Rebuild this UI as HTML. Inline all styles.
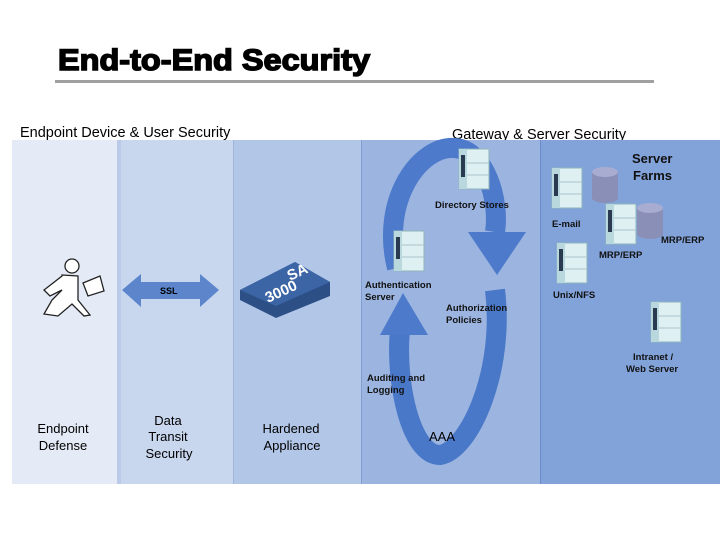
<!DOCTYPE html>
<html><head><style>
body{margin:0;background:#fff;width:720px;height:540px;overflow:hidden}
svg text{font-family:"Liberation Sans",sans-serif}
</style></head><body>
<svg width="720" height="540" viewBox="0 0 720 540" xmlns="http://www.w3.org/2000/svg">
<defs>
<g id="srv">
<rect x="0" y="0" width="30" height="40" fill="#dff0f2" stroke="#8fb4bc" stroke-width="1"/>
<rect x="0" y="0" width="8" height="40" fill="#b8d8de"/>
<rect x="2" y="6" width="4" height="22" fill="#2a3a50"/>
<line x1="8" y1="14" x2="30" y2="14" stroke="#a8c4ca"/>
<line x1="8" y1="26" x2="30" y2="26" stroke="#a8c4ca"/>
</g>
<g id="db">
<rect x="0" y="5" width="26" height="26" fill="#8a8fb8"/>
<ellipse cx="13" cy="31" rx="13" ry="5" fill="#8a8fb8"/>
<ellipse cx="13" cy="5" rx="13" ry="5" fill="#a8acd0"/>
</g>
</defs>
<text x="58" y="70" font-size="30" font-weight="900" fill="#000" stroke="#000" stroke-width="1.5" textLength="312" lengthAdjust="spacingAndGlyphs">End-to-End Security</text>
<rect x="55" y="80" width="599" height="3" fill="#a0a0a0"/>
<text x="20" y="137" font-size="14.5" fill="#000">Endpoint Device &amp; User Security</text>
<text x="452" y="139" font-size="14.5" fill="#000">Gateway &amp; Server Security</text>
<rect x="12" y="140" width="105" height="344" fill="#e5ebf6"/>
<rect x="117" y="140" width="116" height="344" fill="#c8d6ee"/>
<rect x="233" y="140" width="128" height="344" fill="#b2c6e8"/>
<rect x="361" y="140" width="179" height="344" fill="#9cb5e0"/>
<rect x="540" y="140" width="180" height="344" fill="#82a3da"/>
<rect x="117" y="140" width="4" height="344" fill="#b9cbe9"/>
<line x1="233.5" y1="140" x2="233.5" y2="484" stroke="#9fb5dc"/>
<line x1="361.5" y1="140" x2="361.5" y2="484" stroke="#7f9dd2"/>
<line x1="540.5" y1="140" x2="540.5" y2="484" stroke="#6a8ccc"/>
<!-- loop arrows -->
<path d="M 397 268 C 380 200, 420 145, 455 148 C 485 150, 500 200, 495 232" fill="none" stroke="#4d7acb" stroke-width="20"/>
<polygon points="468,232 526,232 497,275" fill="#4d7acb"/>
<path d="M 495 290 C 505 370, 470 450, 440 455 C 410 455, 395 380, 400 330" fill="none" stroke="#4a78c8" stroke-width="20"/>
<polygon points="380,335 428,335 403,293" fill="#4d7acb"/>
<!-- SSL arrow -->
<polygon points="122,290 141,274 141,282 200,282 200,274 219,290 200,307 200,299 141,299 141,307" fill="#5c85cc"/>
<text x="160" y="294" font-size="9" font-weight="bold">SSL</text>
<!-- SA 3000 -->
<polygon points="240,290 295,262 330,282 330,296 276,318 240,300" fill="#2c4f86"/>
<polygon points="240,290 295,262 330,282 276,306" fill="#3c65a6"/>
<text x="290" y="281" font-size="15" font-weight="bold" fill="#fff" transform="rotate(-25 290 281)">SA</text>
<text x="268" y="303" font-size="15" font-weight="bold" fill="#fff" transform="rotate(-25 268 303)">3000</text>
<!-- person -->
<g stroke="#222" stroke-width="1.3" fill="#fff">
<circle cx="72" cy="266" r="7"/>
<path d="M62 275 L78 276 L78 300 L90 315 L84 316 L72 304 L58 316 L44 314 L52 300 L62 290 L50 296 L44 290 L62 276 Z"/>
<polygon points="83,283 100,276 104,291 88,296"/>
</g>
<!-- servers -->
<use href="#srv" x="459" y="149"/>
<use href="#srv" x="552" y="168"/>
<use href="#db" x="592" y="167"/>
<use href="#srv" x="606" y="204"/>
<use href="#db" x="637" y="203"/>
<use href="#srv" x="394" y="231"/>
<use href="#srv" x="557" y="243"/>
<use href="#srv" x="651" y="302"/>
<g font-size="9.5" font-weight="bold" fill="#111">
<text x="632" y="163" font-size="13">Server</text>
<text x="633" y="180" font-size="13">Farms</text>
<text x="435" y="208">Directory Stores</text>
<text x="552" y="227">E-mail</text>
<text x="661" y="243">MRP/ERP</text>
<text x="599" y="258">MRP/ERP</text>
<text x="365" y="288">Authentication</text>
<text x="365" y="300">Server</text>
<text x="446" y="311">Authorization</text>
<text x="446" y="323">Policies</text>
<text x="553" y="298">Unix/NFS</text>
<text x="633" y="360">Intranet /</text>
<text x="626" y="372">Web Server</text>
<text x="367" y="381">Auditing and</text>
<text x="367" y="393">Logging</text>
</g>
<g font-size="13" fill="#000" text-anchor="middle">
<text x="63" y="433">Endpoint</text>
<text x="63" y="450">Defense</text>
<text x="168" y="425">Data</text>
<text x="168" y="441">Transit</text>
<text x="169" y="458">Security</text>
<text x="291" y="433">Hardened</text>
<text x="292" y="450">Appliance</text>
<text x="442" y="441">AAA</text>
</g>
</svg>
</body></html>
